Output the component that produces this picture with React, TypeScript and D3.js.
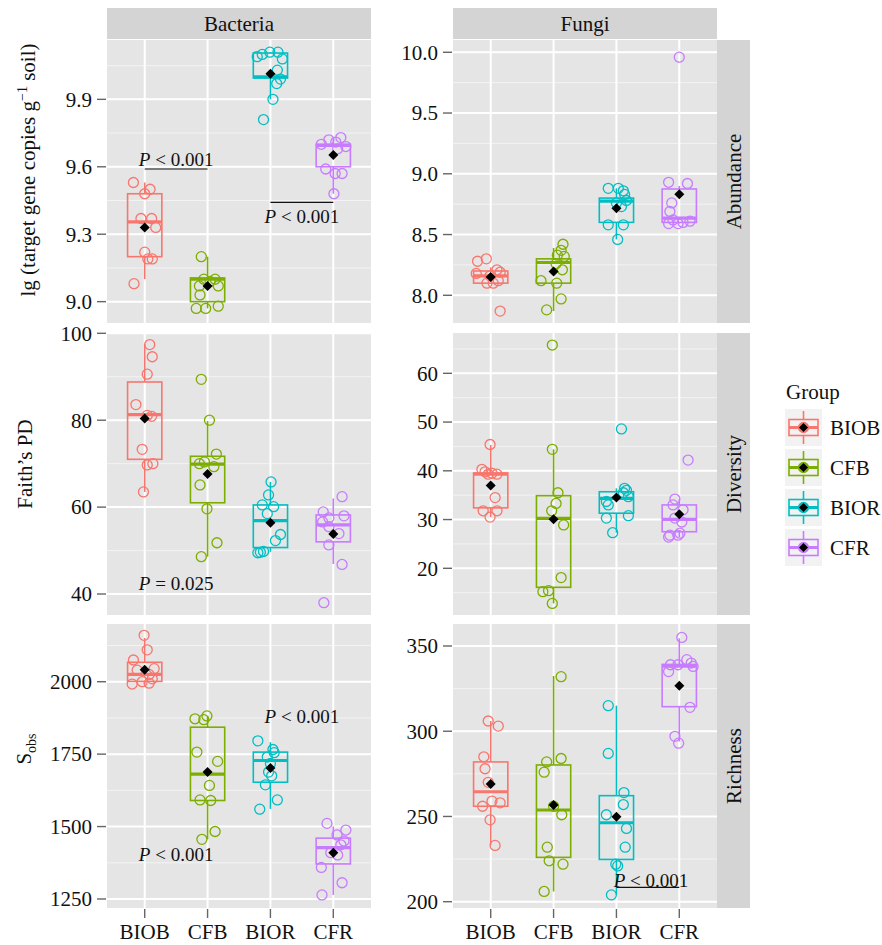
import React from "react";
import * as d3 from "d3";

const groups = ["BIOB", "CFB", "BIOR", "CFR"];
const groupColors = ["#F8766D", "#7CAE00", "#00BFC4", "#C77CFF"];
const kingdoms = ["Bacteria", "Fungi"];
const metrics = ["Abundance", "Diversity", "Richness"];

// points per group: [value, jitter (category units)]
const bacAbundancePts = [
  [[9.53, -0.18], [9.5, 0.085], [9.48, 0.0], [9.37, -0.06], [9.37, 0.11], [9.33, 0.175], [9.22, 0.0], [9.19, 0.05], [9.19, 0.12], [9.08, -0.17]],
  [[9.2, -0.1], [9.1, -0.06], [9.1, 0.12], [9.09, 0.04], [9.07, -0.13], [9.07, 0.17], [9.03, -0.12], [8.98, 0.17], [8.97, -0.18], [8.97, -0.03]],
  [[10.11, -0.01], [10.11, 0.12], [10.1, -0.13], [10.09, -0.21], [10.08, 0.19], [10.03, 0.11], [9.99, 0.16], [9.97, 0.1], [9.9, 0.04], [9.81, -0.11]],
  [[9.73, 0.12], [9.72, -0.07], [9.71, 0.04], [9.7, -0.19], [9.69, 0.2], [9.68, 0.07], [9.59, -0.12], [9.57, 0.14], [9.57, 0.03], [9.48, 0.01]],
];
const fungiAbundancePts = [
  [[8.3, -0.07], [8.28, -0.21], [8.21, 0.1], [8.19, 0.15], [8.18, -0.23], [8.16, -0.01], [8.12, 0.12], [8.1, -0.06], [8.1, 0.04], [7.87, 0.15]],
  [[8.42, 0.15], [8.37, 0.12], [8.33, 0.06], [8.32, 0.17], [8.26, 0.04], [8.21, 0.14], [8.12, -0.2], [8.1, 0.05], [7.97, 0.12], [7.88, -0.11]],
  [[8.88, -0.13], [8.88, 0.03], [8.86, 0.11], [8.83, 0.13], [8.78, 0.16], [8.76, 0.0], [8.73, 0.08], [8.58, -0.13], [8.58, 0.11], [8.46, 0.02]],
  [[9.96, 0.0], [8.93, -0.17], [8.92, 0.13], [8.76, -0.12], [8.69, -0.15], [8.62, -0.1], [8.61, 0.17], [8.6, 0.06], [8.59, -0.17], [8.59, -0.02]],
];
const bacDiversityPts = [
  [[97.4, 0.08], [94.6, 0.12], [90.6, 0.04], [83.6, -0.14], [81.1, 0.04], [80.9, 0.11], [73.3, -0.04], [70.0, 0.13], [69.7, 0.04], [63.5, -0.02]],
  [[89.4, -0.1], [80.0, 0.03], [72.2, 0.14], [70.4, -0.05], [70.0, -0.13], [69.3, 0.1], [65.1, -0.12], [59.6, -0.01], [51.8, 0.15], [48.6, -0.1]],
  [[65.8, 0.01], [62.8, -0.03], [60.5, -0.13], [60.1, 0.05], [58.5, -0.05], [53.7, 0.16], [52.3, 0.08], [49.8, -0.11], [49.6, -0.16], [49.5, -0.2]],
  [[62.4, 0.14], [58.9, -0.16], [58.0, 0.17], [57.5, -0.07], [56.6, -0.17], [55.5, -0.07], [53.9, 0.09], [51.3, -0.07], [46.8, 0.14], [38.0, -0.15]],
];
const fungiDiversityPts = [
  [[45.4, -0.01], [40.3, -0.14], [39.8, -0.09], [39.5, 0.02], [39.3, 0.1], [39.3, -0.04], [34.5, 0.07], [31.8, -0.12], [31.8, 0.1], [30.5, -0.01]],
  [[65.8, -0.02], [44.4, -0.02], [35.5, 0.07], [33.3, 0.04], [31.8, -0.03], [28.9, 0.16], [18.1, 0.12], [15.4, -0.08], [15.2, -0.17], [12.8, -0.02]],
  [[48.6, 0.08], [36.4, 0.13], [36.0, 0.16], [35.5, 0.11], [34.7, 0.19], [33.7, -0.16], [33.0, -0.13], [30.8, 0.19], [30.3, -0.16], [27.3, -0.06]],
  [[42.2, 0.14], [34.2, -0.07], [33.0, -0.1], [32.0, 0.06], [30.3, -0.07], [29.5, 0.04], [27.2, 0.01], [26.8, -0.15], [26.8, -0.02], [26.4, -0.17]],
];
const bacRichnessPts = [
  [[2160, -0.01], [2110, 0.04], [2075, -0.18], [2045, 0.15], [2040, -0.12], [2025, 0.07], [2010, 0.12], [2000, -0.04], [1995, 0.07], [1992, -0.2]],
  [[1882, -0.01], [1872, -0.2], [1869, -0.06], [1757, -0.17], [1725, 0.16], [1642, 0.03], [1592, -0.12], [1590, 0.05], [1483, 0.12], [1456, -0.09]],
  [[1796, -0.2], [1766, 0.04], [1755, 0.06], [1740, -0.05], [1718, 0.0], [1688, -0.03], [1675, 0.02], [1644, -0.08], [1592, 0.11], [1560, -0.17]],
  [[1511, -0.1], [1488, 0.2], [1471, 0.06], [1450, 0.17], [1437, 0.12], [1410, -0.04], [1402, 0.07], [1359, -0.19], [1306, 0.14], [1264, -0.18]],
];
const fungiRichnessPts = [
  [[306, -0.04], [303, 0.12], [285, -0.11], [278, -0.09], [270, -0.04], [259, 0.02], [258, 0.15], [256, -0.13], [248, -0.01], [233, 0.07]],
  [[332, 0.12], [284, 0.12], [282, -0.11], [276, -0.15], [256, 0.0], [251, 0.13], [232, -0.1], [224, -0.07], [222, 0.15], [206, -0.15]],
  [[315, -0.13], [287, -0.13], [264, 0.12], [257, 0.11], [251, -0.16], [243, 0.16], [232, 0.14], [222, -0.01], [221, 0.02], [204, -0.08]],
  [[355, 0.04], [342, 0.12], [340, 0.19], [339, -0.02], [339, -0.14], [338, 0.22], [335, -0.17], [314, 0.17], [297, -0.07], [293, -0.01]],
];

// box stats per group: [ymin, lower, middle, upper, ymax, mean]
const bacAbundanceBox = [
  [9.1, 9.2, 9.355, 9.48, 9.53, 9.33],
  [8.97, 9.0, 9.1, 9.105, 9.2, 9.07],
  [9.9, 9.995, 10.0, 10.106, 10.11, 10.014],
  [9.48, 9.6, 9.695, 9.7, 9.73, 9.652],
];
const fungiAbundanceBox = [
  [8.1, 8.1, 8.16, 8.2, 8.23, 8.151],
  [7.87, 8.1, 8.27, 8.3, 8.39, 8.195],
  [8.46, 8.6, 8.775, 8.8, 8.88, 8.716],
  [8.59, 8.6, 8.635, 8.875, 8.9, 8.831],
];
const bacDiversityBox = [
  [63.5, 71.0, 81.3, 88.8, 97.6, 80.4],
  [48.6, 61.0, 69.9, 71.7, 79.8, 67.6],
  [49.7, 50.7, 56.9, 60.5, 65.8, 56.4],
  [46.9, 52.0, 55.9, 58.2, 62.0, 53.8],
];
const fungiDiversityBox = [
  [30.5, 32.4, 39.3, 39.55, 45.3, 37.0],
  [12.8, 16.1, 30.25, 34.9, 44.4, 30.05],
  [27.3, 31.3, 34.35, 35.7, 36.4, 34.5],
  [26.4, 27.5, 30.05, 33.0, 34.2, 31.1],
];
const bacRichnessBox = [
  [1992, 2001, 2025, 2067, 2151, 2041],
  [1456, 1590, 1681, 1843, 1882, 1688],
  [1561, 1653, 1728, 1757, 1791, 1702],
  [1264, 1371, 1427, 1460, 1500, 1410],
];
const fungiRichnessBox = [
  [233, 256, 264.5, 282, 306, 269],
  [206, 226, 253.8, 280.2, 332.4, 256.7],
  [204, 224.8, 246.3, 262.2, 315, 249.9],
  [294, 314.4, 338.2, 339.2, 354.5, 326.7],
];

// y limits and ticks
const bacAbundanceLim = [8.905, 10.164];
const fungiAbundanceLim = [7.772, 10.101];
const bacDiversityLim = [35.17, 100.07];
const fungiDiversityLim = [10.42, 68.27];
const bacRichnessLim = [1218.9, 2199.2];
const fungiRichnessLim = [196.3, 362.9];

const bacAbundanceTicks = [9.0, 9.3, 9.6, 9.9];
const fungiAbundanceTicks = [8.0, 8.5, 9.0, 9.5, 10.0];
const bacDiversityTicks = [40, 60, 80, 100];
const fungiDiversityTicks = [20, 30, 40, 50, 60];
const bacRichnessTicks = [1250, 1500, 1750, 2000];
const fungiRichnessTicks = [200, 250, 300, 350];

// significance notes: label, text position [x, y], optional bar [from, to, y]
const bacAbundanceNotes = [
  { label: "< 0.001", at: [0.5, 9.634], bar: [0, 1, 9.59] },
  { label: "< 0.001", at: [2.5, 9.38], bar: [2, 3, 9.442] },
];
const bacDiversityNotes = [{ label: "= 0.025", at: [0.5, 42.35] }];
const bacRichnessNotes = [
  { label: "< 0.001", at: [2.5, 1879] },
  { label: "< 0.001", at: [0.5, 1404] },
];
const fungiRichnessNotes = [{ label: "< 0.001", at: [2.55, 212.7], bar: [2, 3, 208.4] }];

const panels = [
  [
    { pts: bacAbundancePts, box: bacAbundanceBox, lim: bacAbundanceLim, ticks: bacAbundanceTicks, fmt: ".1f", notes: bacAbundanceNotes },
    { pts: fungiAbundancePts, box: fungiAbundanceBox, lim: fungiAbundanceLim, ticks: fungiAbundanceTicks, fmt: ".1f", notes: [] },
  ],
  [
    { pts: bacDiversityPts, box: bacDiversityBox, lim: bacDiversityLim, ticks: bacDiversityTicks, fmt: "d", notes: bacDiversityNotes },
    { pts: fungiDiversityPts, box: fungiDiversityBox, lim: fungiDiversityLim, ticks: fungiDiversityTicks, fmt: "d", notes: [] },
  ],
  [
    { pts: bacRichnessPts, box: bacRichnessBox, lim: bacRichnessLim, ticks: bacRichnessTicks, fmt: "d", notes: bacRichnessNotes },
    { pts: fungiRichnessPts, box: fungiRichnessBox, lim: fungiRichnessLim, ticks: fungiRichnessTicks, fmt: "d", notes: fungiRichnessNotes },
  ],
];

const W = 882;
const H = 945;
const FONT = "'Liberation Serif', 'Times New Roman', serif";
const colX = [[107, 371], [453, 717]];
const rowY = [[40, 323], [333, 615], [624, 908]];
const TEXT = "#111";
const PANEL_BG = "#e5e5e5";
const STRIP_BG = "#d4d4d4";

function diamond(x, y, r) {
  return `M${x},${y - r}L${x + r},${y}L${x},${y + r}L${x - r},${y}Z`;
}

function Panel({ cfg, col, row, showX }) {
  const [x0, x1] = colX[col];
  const [y0, y1] = rowY[row];
  const x = d3.scalePoint().domain(groups).range([x0, x1]).padding(0.6);
  const step = x.step();
  const y = d3.scaleLinear().domain(cfg.lim).range([y1, y0]);
  const fmt = d3.format(cfg.fmt);
  const gap = cfg.ticks[1] - cfg.ticks[0];
  const minor = [cfg.ticks[0] - gap / 2, ...cfg.ticks.map((t) => t + gap / 2)].filter(
    (v) => v > cfg.lim[0] && v < cfg.lim[1]
  );
  const bw = step * 0.545;
  const xAt = (u) => x(groups[0]) + u * step;

  return (
    <g>
      <rect x={x0} y={y0} width={x1 - x0} height={y1 - y0} fill={PANEL_BG} />
      {minor.map((v, i) => (
        <line key={"mi" + i} x1={x0} x2={x1} y1={y(v)} y2={y(v)} stroke="#f3f3f3" strokeWidth={1} />
      ))}
      {cfg.ticks.map((v, i) => (
        <line key={"ma" + i} x1={x0} x2={x1} y1={y(v)} y2={y(v)} stroke="#fff" strokeWidth={2} />
      ))}
      {groups.map((g) => (
        <line key={"vg" + g} x1={x(g)} x2={x(g)} y1={y0} y2={y1} stroke="#fff" strokeWidth={2} />
      ))}

      {/* y axis */}
      {cfg.ticks.map((v, i) => (
        <g key={"yt" + i}>
          <line x1={x0 - 10} x2={x0 - 1} y1={y(v)} y2={y(v)} stroke="#666" strokeWidth={1.4} />
          <text x={x0 - 15} y={y(v)} dy="0.35em" textAnchor="end" fontSize={21} fill={TEXT}>
            {fmt(v)}
          </text>
        </g>
      ))}

      {/* x axis */}
      {showX &&
        groups.map((g) => (
          <g key={"xt" + g}>
            <line x1={x(g)} x2={x(g)} y1={y1 + 1} y2={y1 + 10} stroke="#666" strokeWidth={1.4} />
            <text x={x(g)} y={y1 + 31} textAnchor="middle" fontSize={21} fill={TEXT}>
              {g}
            </text>
          </g>
        ))}

      {/* boxes */}
      {cfg.box.map((b, gi) => {
        const cx = x(groups[gi]);
        const c = groupColors[gi];
        return (
          <g key={"bx" + gi} stroke={c} fill="none">
            <line x1={cx} x2={cx} y1={y(b[0])} y2={y(b[1])} strokeWidth={1.6} />
            <line x1={cx} x2={cx} y1={y(b[3])} y2={y(b[4])} strokeWidth={1.6} />
            <rect x={cx - bw / 2} y={y(b[3])} width={bw} height={y(b[1]) - y(b[3])} strokeWidth={1.6} />
            <line x1={cx - bw / 2} x2={cx + bw / 2} y1={y(b[2])} y2={y(b[2])} strokeWidth={3.2} />
          </g>
        );
      })}

      {/* jittered points */}
      {cfg.pts.map((arr, gi) =>
        arr.map((p, i) => (
          <circle
            key={"pt" + gi + "-" + i}
            cx={x(groups[gi]) + p[1] * step}
            cy={y(p[0])}
            r={5}
            fill="none"
            stroke={groupColors[gi]}
            strokeWidth={1.3}
          />
        ))
      )}

      {/* means */}
      {cfg.box.map((b, gi) => (
        <path key={"mn" + gi} d={diamond(x(groups[gi]), y(b[5]), 5)} fill="#000" />
      ))}

      {/* notes */}
      {cfg.notes.map((n, i) => (
        <g key={"nt" + i}>
          {n.bar && (
            <line x1={xAt(n.bar[0])} x2={xAt(n.bar[1])} y1={y(n.bar[2])} y2={y(n.bar[2])} stroke="#111" strokeWidth={1.2} />
          )}
          <text x={xAt(n.at[0])} y={y(n.at[1])} dy="0.35em" textAnchor="middle" fontSize={19} fill={TEXT}>
            <tspan fontStyle="italic">P</tspan>
            {" " + n.label}
          </text>
        </g>
      ))}
    </g>
  );
}

export default function App() {
  return (
    <svg
      width={W}
      height={H}
      viewBox={`0 0 ${W} ${H}`}
      style={{ position: "absolute", left: 0, top: 0, background: "#fff" }}
      fontFamily={FONT}
    >
      <rect width={W} height={H} fill="#fff" />

      {/* top strips */}
      {kingdoms.map((k, ci) => (
        <g key={k}>
          <rect x={colX[ci][0]} y={8} width={colX[ci][1] - colX[ci][0]} height={31} fill={STRIP_BG} />
          <text x={(colX[ci][0] + colX[ci][1]) / 2} y={23.5} dy="0.35em" textAnchor="middle" fontSize={21} fill={TEXT}>
            {k}
          </text>
        </g>
      ))}

      {/* right strips */}
      {metrics.map((m, ri) => {
        const cy = (rowY[ri][0] + rowY[ri][1]) / 2;
        return (
          <g key={m}>
            <rect x={717} y={rowY[ri][0]} width={33} height={rowY[ri][1] - rowY[ri][0]} fill={STRIP_BG} />
            <text
              transform={`translate(733.5,${cy}) rotate(-90)`}
              dy="0.35em"
              textAnchor="middle"
              fontSize={21}
              fill={TEXT}
            >
              {m}
            </text>
          </g>
        );
      })}

      {panels.map((row, ri) =>
        row.map((cfg, ci) => <Panel key={ri + "-" + ci} cfg={cfg} col={ci} row={ri} showX={ri === 2} />)
      )}

      {/* y titles */}
      <text transform="translate(28,170) rotate(-90)" dy="0.35em" textAnchor="middle" fontSize={21} fill={TEXT}>
        lg (target gene copies g
        <tspan dy={-8} fontSize={14}>
          −1
        </tspan>
        <tspan dy={8}> soil)</tspan>
      </text>
      <text transform="translate(25,464) rotate(-90)" dy="0.35em" textAnchor="middle" fontSize={21} fill={TEXT}>
        Faith’s PD
      </text>
      <text transform="translate(24,749) rotate(-90)" dy="0.35em" textAnchor="middle" fontSize={21} fill={TEXT}>
        S
        <tspan dy={5} fontSize={14}>
          obs
        </tspan>
      </text>

      {/* legend */}
      <text x={786} y={399} fontSize={21} fill={TEXT}>
        Group
      </text>
      {groups.map((g, i) => {
        const ky = 409 + i * 40;
        const kx = 785;
        const cx = kx + 18.5;
        const cy = ky + 18.5;
        const c = groupColors[i];
        return (
          <g key={"lg" + g}>
            <rect x={kx} y={ky} width={37} height={37} fill="#f2f2f2" />
            <line x1={cx} x2={cx} y1={ky + 2} y2={ky + 35} stroke={c} strokeWidth={1.6} />
            <rect x={kx + 4} y={cy - 8} width={29} height={16} fill="#f2f2f2" stroke={c} strokeWidth={1.6} />
            <line x1={kx + 4} x2={kx + 33} y1={cy} y2={cy} stroke={c} strokeWidth={3} />
            <circle cx={cx} cy={cy} r={5} fill={c} stroke={c} strokeWidth={1.3} />
            <path d={diamond(cx, cy, 4.5)} fill="#000" />
            <text x={830} y={cy} dy="0.35em" fontSize={21} fill={TEXT}>
              {g}
            </text>
          </g>
        );
      })}
    </svg>
  );
}
